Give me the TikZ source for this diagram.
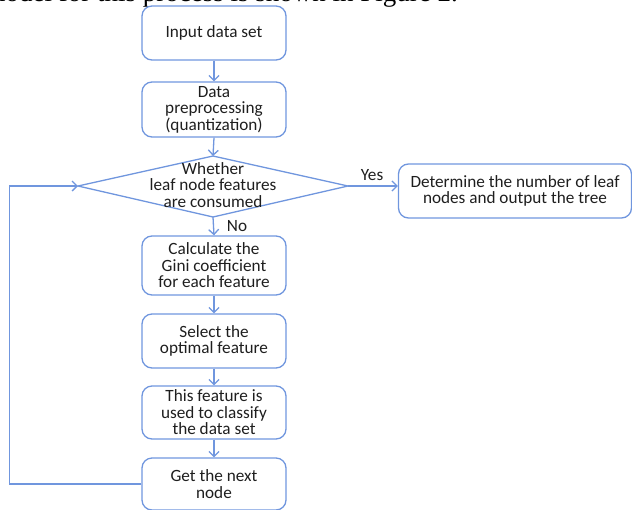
\documentclass[tikz,border=0pt]{standalone}
\usepackage{fontspec}
\setmainfont{Carlito}
\newfontfamily\seriffont{Liberation Serif}
\usetikzlibrary{arrows.meta}
\definecolor{flowblue}{RGB}{112,150,222}
\definecolor{flowtext}{RGB}{30,30,30}
\tikzset{
  stepbox/.style={draw=flowblue, line width=1.3pt, rounded corners=10pt,
    minimum width=144pt, inner sep=0pt, align=center, text=flowtext,
    font=\fontsize{17.2}{16.5}\selectfont},
  plaintext/.style={inner sep=0pt, align=center, text=flowtext,
    font=\fontsize{17.2}{16.5}\selectfont},
  flow/.style={draw=flowblue, line width=1.3pt, -{Straight Barb[length=5pt,width=10pt]}},
}
\begin{document}
\begin{tikzpicture}[x=1pt,y=-1pt]
\useasboundingbox (0,0) rectangle (632,509);
% cut-off caption line at the top
\node[anchor=base east, inner sep=0pt, text=black, font=\seriffont\fontsize{27}{30}\selectfont] (cap) at (458,1.5) {model for this process is shown in Figure 2.};

\node[stepbox, minimum height=54pt] (b1) at (214,33) {Input data set};
\node[stepbox, minimum height=55pt] (b2) at (214,109.5) {Data\\preprocessing\\(quantization)};

% decision diamond
\coordinate (dt) at (213,156);
\coordinate (dr) at (348,186);
\coordinate (db) at (213,217);
\coordinate (dl) at (78,186);
\draw[flowblue, line width=1.3pt] (dt) -- (dr) -- (db) -- (dl) -- cycle;
\node[plaintext] (dec) at (213,185) {Whether\\leaf node features\\are consumed};

\node[stepbox, minimum height=59pt] (b3) at (214,265.5) {Calculate the\\Gini coefficient\\for each feature};
\node[stepbox, minimum height=54pt] (b4) at (214,341) {Select the\\optimal feature};
\node[stepbox, minimum height=53pt] (b5) at (214,412.5) {This feature is\\used to classify\\the data set};
\node[stepbox, minimum height=52pt] (b6) at (214,484) {Get the next\\node};

\node[stepbox, minimum width=233pt, minimum height=54pt] (yes) at (515,191) {Determine the number of leaf\\nodes and output the tree};

\draw[flow] (b1) -- (b2);
\draw[flow] (b2.south) -- (dt);
\draw[flow] (db) -- (b3.north);
\draw[flow] (b3) -- (b4);
\draw[flow] (b4) -- (b5);
\draw[flow] (b5) -- (b6);
\draw[flow] (dr) -- (yes.west |- dr);
\coordinate (lb) at (9.5,484);
\coordinate (lt) at (9.5,186);
\draw[flow] (b6.west) -- (lb) -- (lt) -- (dl);

\node[plaintext] (yeslbl) at (372,175) {Yes};
\node[plaintext] (nolbl) at (237,226) {No};
\end{tikzpicture}
\end{document}
